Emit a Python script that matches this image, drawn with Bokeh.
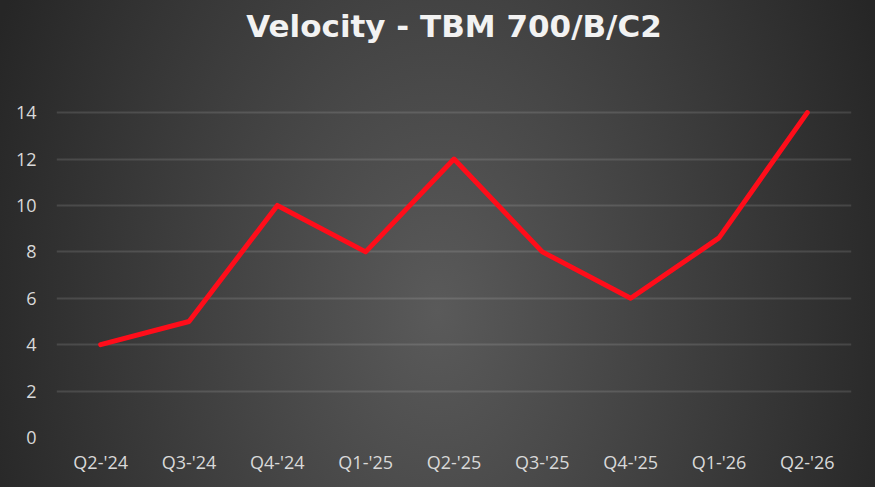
from bokeh.plotting import figure
from bokeh.models import FactorRange, Range1d, FixedTicker, Title
from bokeh.embed import file_html
from bokeh.resources import INLINE

quarters = ["Q2-'24", "Q3-'24", "Q4-'24", "Q1-'25", "Q2-'25",
            "Q3-'25", "Q4-'25", "Q1-'26", "Q2-'26"]
velocity = [4, 5, 10, 8, 12, 8, 6, 8.6, 14]
y_ticks = [0, 2, 4, 6, 8, 10, 12, 14]

p = figure(width=875, height=487,
           x_range=FactorRange(*quarters), y_range=Range1d(0, 14.35),
           title="Velocity - TBM 700/B/C2",
           output_backend="svg", toolbar_location=None,
           min_border_left=56, min_border_right=24,
           min_border_top=104, min_border_bottom=50)

# dark radial background like the Excel chart style
p.styles = {"background": "radial-gradient(ellipse 480px 700px at 50% 64%, #5a5a5a 0%, #262626 100%)"}
p.background_fill_color = None
p.border_fill_color = None
p.outline_line_color = None

p.title.align = "center"
p.title.offset = 11
p.title.standoff = 10
p.title.text_color = "#f2f2f2"
p.title.text_font = "DejaVu Sans"
p.title.text_font_style = "bold"
p.title.text_font_size = "31px"

# empty spacer between the title and the plot area
p.add_layout(Title(text=" ", text_font_size="1px", standoff=53), "above")

p.line(x=quarters, y=velocity, line_color="#ff0d1a", line_width=5,
       line_join="round", line_cap="round")

p.xgrid.grid_line_color = None
p.ygrid.grid_line_color = "white"
p.ygrid.grid_line_alpha = 0.12
p.ygrid.grid_line_width = 2

p.yaxis.ticker = FixedTicker(ticks=y_ticks)
for ax in (p.xaxis, p.yaxis):
    ax.axis_line_color = None
    ax.major_tick_line_color = None
    ax.minor_tick_line_color = None
    ax.major_tick_out = 0
    ax.major_tick_in = 0
    ax.major_label_text_color = "#d9d9d9"
    ax.major_label_text_font = "Open Sans"
    ax.major_label_text_font_size = "18px"
p.yaxis.major_label_standoff = 20
p.xaxis.major_label_standoff = 12

open("out.html", "w").write(file_html(p, INLINE))
